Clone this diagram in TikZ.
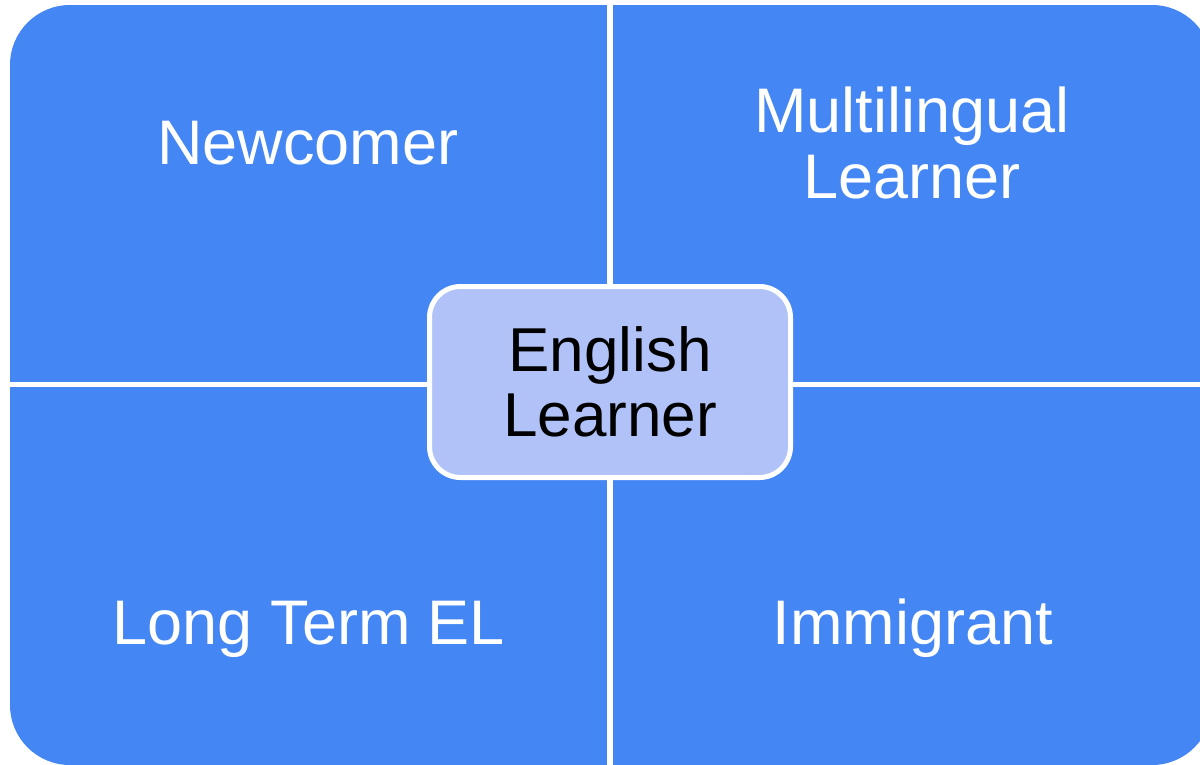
\documentclass[tikz,border=0pt]{standalone}
\usepackage{fontspec}
\setmainfont{Liberation Sans}
\definecolor{quadblue}{RGB}{67,134,244}
\definecolor{centerfill}{RGB}{176,194,247}
\begin{document}
\begin{tikzpicture}[x=1pt,y=-1pt,
  lbl/.style={text=white,font=\fontsize{63}{66}\selectfont,align=center,inner sep=0pt,anchor=base},
  divider/.style={white,line width=6pt},
  centerbox/.style={draw=white,line width=5pt,fill=centerfill,rounded corners=31pt,
    minimum width=361pt,minimum height=191pt,inner sep=0pt,text=black,align=center,
    font=\fontsize{62}{65.5}\selectfont}]
\useasboundingbox (0,0) rectangle (1200,764);
\fill[quadblue,rounded corners=60pt] (10,5) rectangle (1212,765);
\coordinate (vt) at (610,0);
\coordinate (vb) at (610,770);
\coordinate (hl) at (0,384.5);
\coordinate (hr) at (1220,384.5);
\draw[divider] (vt) -- (vb);
\draw[divider,line width=5.6pt] (hl) -- (hr);
\node[centerbox] (el) at (610,382) {English\\Learner};
\node[lbl] (nc) at (308,164) {Newcomer};
\node[lbl] (ml) at (912,198) {Multilingual\\Learner};
\node[lbl] (lt) at (309,644) {Long Term EL};
\node[lbl] (im) at (913,644) {Immigrant};
\end{tikzpicture}
\end{document}
